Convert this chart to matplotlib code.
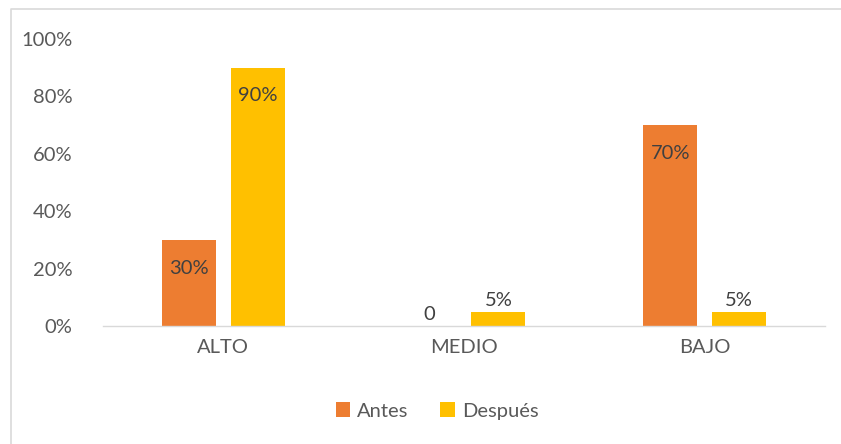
import numpy as np
import matplotlib.pyplot as plt
from matplotlib.lines import Line2D

categorias = ['ALTO', 'MEDIO', 'BAJO']
antes = [0.30, 0.0, 0.70]
despues = [0.90, 0.05, 0.05]
etiquetas_antes = ['30%', '0', '70%']
etiquetas_despues = ['90%', '5%', '5%']

plt.rcParams['font.family'] = ['Lato', 'DejaVu Sans']
gris = '#595959'
naranja = '#ED7D31'
amarillo = '#FFC000'
fs = 14.5

fig = plt.figure(figsize=(8.41, 4.44), dpi=100)
# borde del gráfico: solo arriba e izquierda quedan dentro del recorte
fig.lines.append(Line2D([10.5 / 841, 10.5 / 841, 1], [0, 1 - 9.5 / 444, 1 - 9.5 / 444],
                        transform=fig.transFigure, color='#D9D9D9', linewidth=1.2))
ax = fig.add_axes([103 / 841, 1 - 326 / 444, 722 / 841, 287 / 444])

x = np.arange(len(categorias))
ancho = 0.224
desp = 0.143
b1 = ax.bar(x - desp, antes, ancho, color=naranja, label='Antes')
b2 = ax.bar(x + desp, despues, ancho, color=amarillo, label='Después')

for barras, vals, etqs in [(b1, antes, etiquetas_antes), (b2, despues, etiquetas_despues)]:
    for b, v, t in zip(barras, vals, etqs):
        cx = b.get_x() + b.get_width() / 2
        if v >= 0.2:
            ax.text(cx, v - 0.098, t, ha='center', va='center', fontsize=fs, color='#404040')
        else:
            ax.text(cx, v + 0.01, t, ha='center', va='bottom', fontsize=fs, color='#404040')

ax.set_xlim(-0.5, 2.5)
ax.set_ylim(0, 1)
ax.set_yticks(np.arange(0, 1.01, 0.2))
ax.set_yticklabels([f'{int(round(v * 100))}%' for v in np.arange(0, 1.01, 0.2)])
ax.set_xticks(x)
ax.set_xticklabels(categorias)
ax.tick_params(axis='both', length=0, labelsize=fs, colors=gris)
ax.tick_params(axis='y', pad=22)
ax.tick_params(axis='x', pad=9)
for s in ['top', 'right', 'left']:
    ax.spines[s].set_visible(False)
ax.spines['bottom'].set_color('#D9D9D9')
ax.spines['bottom'].set_linewidth(1)

fig.legend(loc='center', bbox_to_anchor=(437 / 841, 1 - 411 / 444), ncol=2,
           frameon=False, fontsize=fs, labelcolor=gris, handlelength=0.7,
           handleheight=0.7, handletextpad=0.35, columnspacing=1.6)

fig.savefig('out.png', dpi=100)
